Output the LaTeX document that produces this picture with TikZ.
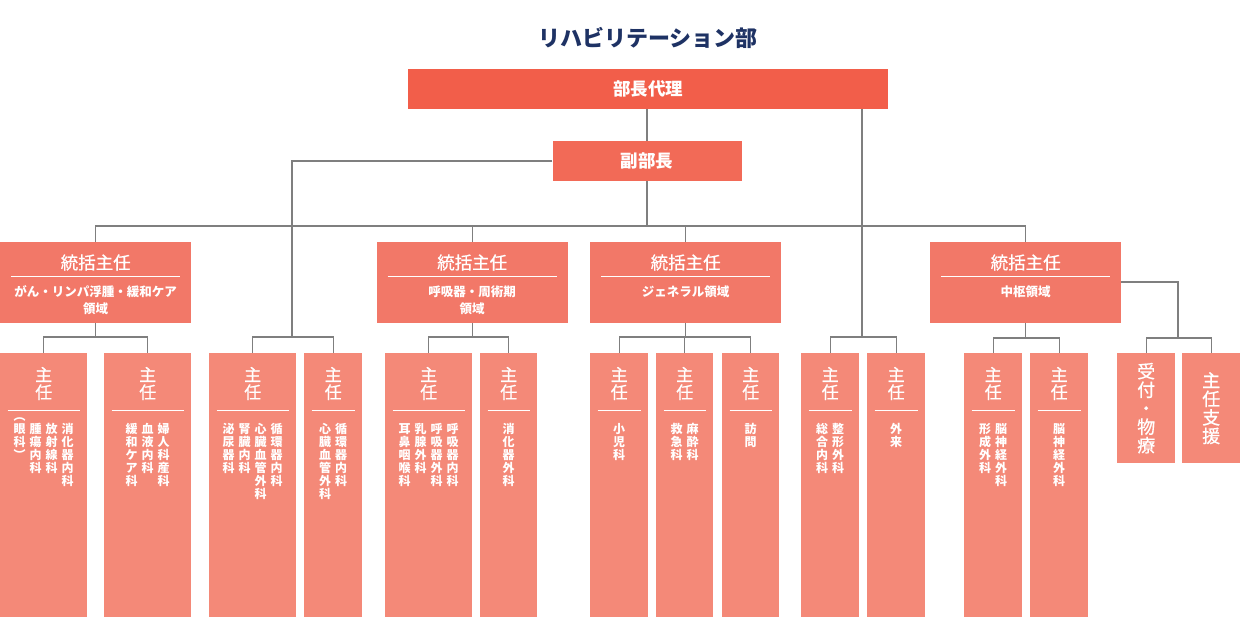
\documentclass[tikz,border=0pt]{standalone}
\usepackage{fontspec}
\newfontfamily\jp{Noto Sans CJK JP}
\newfontfamily\jpm[FakeBold=0.7]{Noto Sans CJK JP}
\usetikzlibrary{calc}
\definecolor{navy}{HTML}{1E3264}
\definecolor{dairicol}{HTML}{F25E4A}
\definecolor{fukucol}{HTML}{F26A57}
\definecolor{tocol}{HTML}{F27868}
\definecolor{shucol}{HTML}{F48978}
\definecolor{linegray}{HTML}{7F7F7F}
\newcommand\shunin[3]{%
  \node[sbox, minimum width=#3] (#1) at (#2,353) {};
  \node[shu] (#1h) at ($(#1.north)+(0,30.5)$) {主\\任};
  \draw[sepl] ($(#1.north west)+(7.5,58)$) -- ($(#1.north east)+(-7.5,58)$);
}
\newcommand\tokatsu[4]{%
  \node[tbox] (#1) at (#2,242) {};
  \node[ttitle] (#1h) at ($(#1.north)+(0,20.5)$) {統括主任};
  \draw[sepl] ($(#1.north west)+(11,35)$) -- ($(#1.north east)+(-11,35)$);
  \node[tsub] (#1s) at ($(#1.north)+(0,#3)$) {#4};
}
\begin{document}
\begin{tikzpicture}[x=1pt,y=-1pt,
  conn/.style={draw=linegray, line width=1.2},
  sepl/.style={draw=white, line width=1},
  sbox/.style={fill=shucol, inner sep=0, anchor=north west, minimum height=264},
  ubox/.style={fill=shucol, inner sep=0, anchor=north west, minimum height=110, minimum width=58},
  tbox/.style={fill=tocol, inner sep=0, anchor=north west, minimum width=191, minimum height=81},
  shu/.style={text=white, inner sep=0, align=center, font=\jpm\fontsize{17}{17.5}\selectfont},
  ttitle/.style={text=white, inner sep=0, font=\jpm\fontsize{17.5}{20}\selectfont},
  tsub/.style={text=white, inner sep=0, align=center, font=\jp\bfseries\fontsize{12.5}{17}\selectfont},
  col/.style={text=white, inner sep=0, anchor=north, align=center, font=\jp\bfseries\fontsize{12}{13}\selectfont},
  big/.style={text=white, inner sep=0, align=center, font=\jpm\fontsize{18}{18.5}\selectfont},
]
\useasboundingbox (0,0) rectangle (1240,617);

% title
\node[text=navy, inner sep=0, font=\jp\bfseries\fontsize{22}{24}\selectfont] (title) at (648,38) {リハビリテーション部};

% top boxes
\node[fill=dairicol, inner sep=0, minimum width=480, minimum height=40, text=white,
      font=\jp\bfseries\fontsize{17.5}{20}\selectfont] (dairi) at (648,89) {部長代理};
\node[fill=fukucol, inner sep=0, minimum width=189, minimum height=40, text=white,
      font=\jp\bfseries\fontsize{17.5}{20}\selectfont] (fuku) at (647,161) {副部長};

% 統括主任 boxes
\tokatsu{t1}{0}{58.5}{がん・リンパ浮腫・緩和ケア\\領域}
\tokatsu{t2}{376.5}{58.5}{呼吸器・周術期\\領域}
\tokatsu{t3}{590}{50}{ジェネラル領域}
\tokatsu{t4}{930}{50}{中枢領域}

% 主任 boxes
\shunin{s11}{0}{87}
\shunin{s12}{104}{87}
\shunin{s21}{209}{87}
\shunin{s22}{304}{58}
\shunin{s31}{385}{87}
\shunin{s32}{480}{57}
\shunin{s41}{590}{58}
\shunin{s42}{656}{57}
\shunin{s43}{722}{57}
\shunin{s51}{801}{58}
\shunin{s52}{867}{58}
\shunin{s61}{964}{58}
\shunin{s62}{1030}{58}
\node[ubox] (u1) at (1117,353) {};
\node[ubox] (u2) at (1182,353) {};
\node[big] (u1t) at (u1.center) {受\\付\\・\\物\\療};
\node[big] (u2t) at (u2.center) {主\\任\\支\\援};

% column texts
\node[col] (c11a) at (67.5,423) {消\\化\\器\\内\\科};
\node[col] (c11b) at (51.5,423) {放\\射\\線\\科};
\node[col] (c11c) at (35.5,423) {腫\\瘍\\内\\科};
\node[col] (c11d) at (19.5,417) {︵\\眼\\科\\︶};
\node[col] (c12a) at (163.5,423) {婦\\人\\科\\産\\科};
\node[col] (c12b) at (147.5,423) {血\\液\\内\\科};
\node[col] (c12c) at (131.5,423) {緩\\和\\ケ\\ア\\科};
\node[col] (c21a) at (276.5,423) {循\\環\\器\\内\\科};
\node[col] (c21b) at (260.5,423) {心\\臓\\血\\管\\外\\科};
\node[col] (c21c) at (244.5,423) {腎\\臓\\内\\科};
\node[col] (c21d) at (228.5,423) {泌\\尿\\器\\科};
\node[col] (c22a) at (341,423) {循\\環\\器\\内\\科};
\node[col] (c22b) at (325,423) {心\\臓\\血\\管\\外\\科};
\node[col] (c31a) at (452.5,423) {呼\\吸\\器\\内\\科};
\node[col] (c31b) at (436.5,423) {呼\\吸\\器\\外\\科};
\node[col] (c31c) at (420.5,423) {乳\\腺\\外\\科};
\node[col] (c31d) at (404.5,423) {耳\\鼻\\咽\\喉\\科};
\node[col] (c32a) at (508.5,423) {消\\化\\器\\外\\科};
\node[col] (c41a) at (619,423) {小\\児\\科};
\node[col] (c42a) at (692.5,423) {麻\\酔\\科};
\node[col] (c42b) at (676.5,423) {救\\急\\科};
\node[col] (c43a) at (750.5,423) {訪\\問};
\node[col] (c51a) at (838,423) {整\\形\\外\\科};
\node[col] (c51b) at (822,423) {総\\合\\内\\科};
\node[col] (c52a) at (896,423) {外\\来};
\node[col] (c61a) at (1001,423) {脳\\神\\経\\外\\科};
\node[col] (c61b) at (985,423) {形\\成\\外\\科};
\node[col] (c62a) at (1059,423) {脳\\神\\経\\外\\科};

% connectors
\coordinate (jT) at (647,226);
\coordinate (jL) at (292,337);
\coordinate (jR) at (862,337);
\coordinate (jU) at (1178,338);
\coordinate (j1) at (t1.south |- 0,337);
\coordinate (j2) at (t2.south |- 0,337);
\coordinate (j3) at (t3.south |- 0,337);
\coordinate (j4) at (t4.south |- 0,338);

\draw[conn] (dairi.south -| fuku.north) -- (fuku.north);
\draw[conn] (dairi.south -| jR) -- (jR);
\draw[conn] (fuku.west) -| (jL);
\draw[conn] (fuku.south) -- (jT);
\draw[conn] (t1.north) |- (jT) -| (t4.north);
\draw[conn] (t2.north) -- (t2.north |- jT);
\draw[conn] (t3.north) -- (t3.north |- jT);

\draw[conn] (t1.south) -- (j1);
\draw[conn] (s11.north) |- (j1) -| (s12.north);
\draw[conn] (s21.north) |- (jL) -| (s22.north);
\draw[conn] (t2.south) -- (j2);
\draw[conn] (s31.north) |- (j2) -| (s32.north);
\draw[conn] (t3.south) -- (j3);
\draw[conn] (s41.north) |- (j3) -| (s43.north);
\draw[conn] (s42.north) -- (s42.north |- j3);
\draw[conn] (s51.north) |- (jR) -| (s52.north);
\draw[conn] (t4.south) -- (j4);
\draw[conn] (s61.north) |- (j4) -| (s62.north);
\draw[conn] (t4.east |- 0,282) -| (jU);
\draw[conn] (u1.north) |- (jU) -| (u2.north);
\end{tikzpicture}
\end{document}
